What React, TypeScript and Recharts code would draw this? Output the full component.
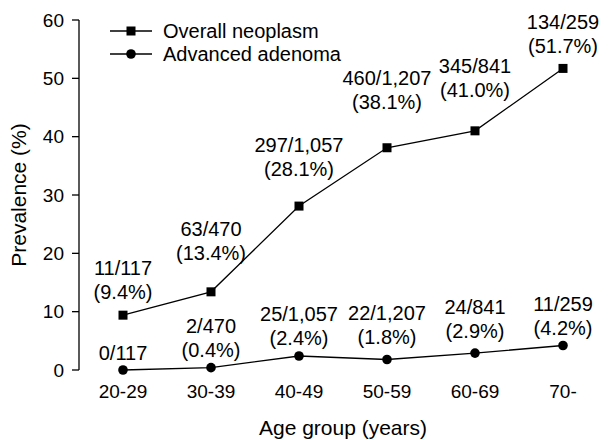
import React from 'react'
import { LineChart, Line, XAxis, YAxis, LabelList, Legend } from 'recharts'

// Age bands and per-band counts
const ageGroups = ['20-29', '30-39', '40-49', '50-59', '60-69', '70-']
const examined = [117, 470, 1057, 1207, 841, 259]
const neoplasmCases = [11, 63, 297, 460, 345, 134]
const neoplasmPct = [9.4, 13.4, 28.1, 38.1, 41.0, 51.7]
const adenomaCases = [0, 2, 25, 22, 24, 11]
const adenomaPct = [0, 0.4, 2.4, 1.8, 2.9, 4.2]
const yTicks = [0, 10, 20, 30, 40, 50, 60]

// how far each label block sits above its marker (px)
const neoplasmLift = [23, 39, 37, 46, 41, 22]
const adenomaLift = [17, 18, 18, 23, 22, 18]

const FONT = 'Arial, "Liberation Sans", Helvetica, sans-serif'
const TICK_FS = 19
const LABEL_FS = 20
const TITLE_FS = 21
const LINE_GAP = 24

const data = ageGroups.map((g, i) => ({
  pos: i + 0.5,
  group: g,
  neoplasm: neoplasmPct[i],
  adenoma: adenomaPct[i],
}))

const fmt = (n: number) => n.toLocaleString('en-US')

function makeLabel(cases: number[], pct: number[], lift: number[]) {
  // eslint-disable-next-line @typescript-eslint/no-explicit-any
  return (props: any) => {
    const { x, y, index } = props
    const top = `${cases[index]}/${fmt(examined[index])}`
    const bottom = cases[index] === 0 ? null : `(${pct[index].toFixed(1)}%)`
    const base = y - lift[index]
    return (
      <g fontFamily={FONT} fontSize={LABEL_FS} fill="#000" textAnchor="middle">
        {bottom ? (
          <>
            <text x={x} y={base - LINE_GAP} dominantBaseline="central">{top}</text>
            <text x={x} y={base} dominantBaseline="central">{bottom}</text>
          </>
        ) : (
          <text x={x} y={base} dominantBaseline="central">{top}</text>
        )}
      </g>
    )
  }
}

// eslint-disable-next-line @typescript-eslint/no-explicit-any
const SquareDot = (props: any) => {
  const { cx, cy } = props
  return <rect x={cx - 4.5} y={cy - 4.5} width={9} height={9} fill="#000" />
}

// eslint-disable-next-line @typescript-eslint/no-explicit-any
const RoundDot = (props: any) => {
  const { cx, cy } = props
  return <circle cx={cx} cy={cy} r={4.8} fill="#000" />
}

const KeyBox = () => (
  <svg width={280} height={50} style={{ display: 'block' }}>
    <g stroke="#000" strokeWidth={1.3}>
      <line x1={0} y1={12} x2={42} y2={12} />
      <line x1={0} y1={35} x2={42} y2={35} />
    </g>
    <rect x={16.5} y={7.5} width={9} height={9} fill="#000" />
    <circle cx={21} cy={35} r={4.8} fill="#000" />
    <g fontFamily={FONT} fontSize={LABEL_FS} fill="#000">
      <text x={53} y={12} dominantBaseline="central">Overall neoplasm</text>
      <text x={53} y={35} dominantBaseline="central">Advanced adenoma</text>
    </g>
  </svg>
)

export default function App() {
  return (
    <div style={{ position: 'absolute', left: 0, top: 0, fontFamily: FONT }}>
      <LineChart width={608} height={440} data={data} margin={{ top: 20, right: 1, left: 0, bottom: 0 }}>
        {/* band edges: tick marks only */}
        <XAxis
          xAxisId="edges"
          type="number"
          dataKey="pos"
          domain={[0, 6]}
          ticks={[0, 1, 2, 3, 4, 5, 6]}
          height={0}
          tickSize={8}
          tickFormatter={() => ''}
          axisLine={{ stroke: '#000', strokeWidth: 1.3 }}
          tickLine={{ stroke: '#000', strokeWidth: 1.3 }}
        />
        <XAxis
          xAxisId="cats"
          type="number"
          dataKey="pos"
          domain={[0, 6]}
          ticks={data.map((d) => d.pos)}
          tickFormatter={(v: number) => ageGroups[Math.floor(v)]}
          height={70}
          axisLine={false}
          tickLine={false}
          tickSize={8}
          tickMargin={7}
          tick={{ fill: '#000', fontSize: TICK_FS, fontFamily: FONT }}
          label={{
            // eslint-disable-next-line @typescript-eslint/no-explicit-any
            content: ({ viewBox }: any) => (
              <text
                x={viewBox.x + viewBox.width / 2}
                y={viewBox.y + 57}
                textAnchor="middle"
                dominantBaseline="central"
                fontSize={TITLE_FS}
                fontFamily={FONT}
                fill="#000"
              >
                Age group (years)
              </text>
            ),
          }}
        />
        <YAxis
          type="number"
          domain={[0, 60]}
          ticks={yTicks}
          width={79}
          tickSize={7}
          tickMargin={8}
          axisLine={{ stroke: '#000', strokeWidth: 1.3 }}
          tickLine={{ stroke: '#000', strokeWidth: 1.3 }}
          tick={{ fill: '#000', fontSize: TICK_FS, fontFamily: FONT }}
          label={{
            // eslint-disable-next-line @typescript-eslint/no-explicit-any
            content: ({ viewBox }: any) => {
              const cx = viewBox.x + 18
              const cy = viewBox.y + viewBox.height / 2
              return (
                <text
                  x={cx}
                  y={cy}
                  transform={`rotate(-90 ${cx} ${cy})`}
                  textAnchor="middle"
                  dominantBaseline="central"
                  fontSize={TITLE_FS}
                  fontFamily={FONT}
                  fill="#000"
                >
                  Prevalence (%)
                </text>
              )
            },
          }}
        />
        {/* middle/center alignment keeps the key from reserving plot space */}
        <Legend
          layout="horizontal"
          verticalAlign="middle"
          align="center"
          content={() => <KeyBox />}
          wrapperStyle={{ position: 'absolute', top: 19, left: 110, width: 280, height: 50 }}
        />
        <Line
          xAxisId="cats"
          dataKey="neoplasm"
          stroke="#000"
          strokeWidth={1.3}
          dot={<SquareDot />}
          activeDot={false}
          isAnimationActive={false}
        >
          <LabelList dataKey="neoplasm" content={makeLabel(neoplasmCases, neoplasmPct, neoplasmLift)} />
        </Line>
        <Line
          xAxisId="cats"
          dataKey="adenoma"
          stroke="#000"
          strokeWidth={1.3}
          dot={<RoundDot />}
          activeDot={false}
          isAnimationActive={false}
        >
          <LabelList dataKey="adenoma" content={makeLabel(adenomaCases, adenomaPct, adenomaLift)} />
        </Line>
      </LineChart>
    </div>
  )
}
